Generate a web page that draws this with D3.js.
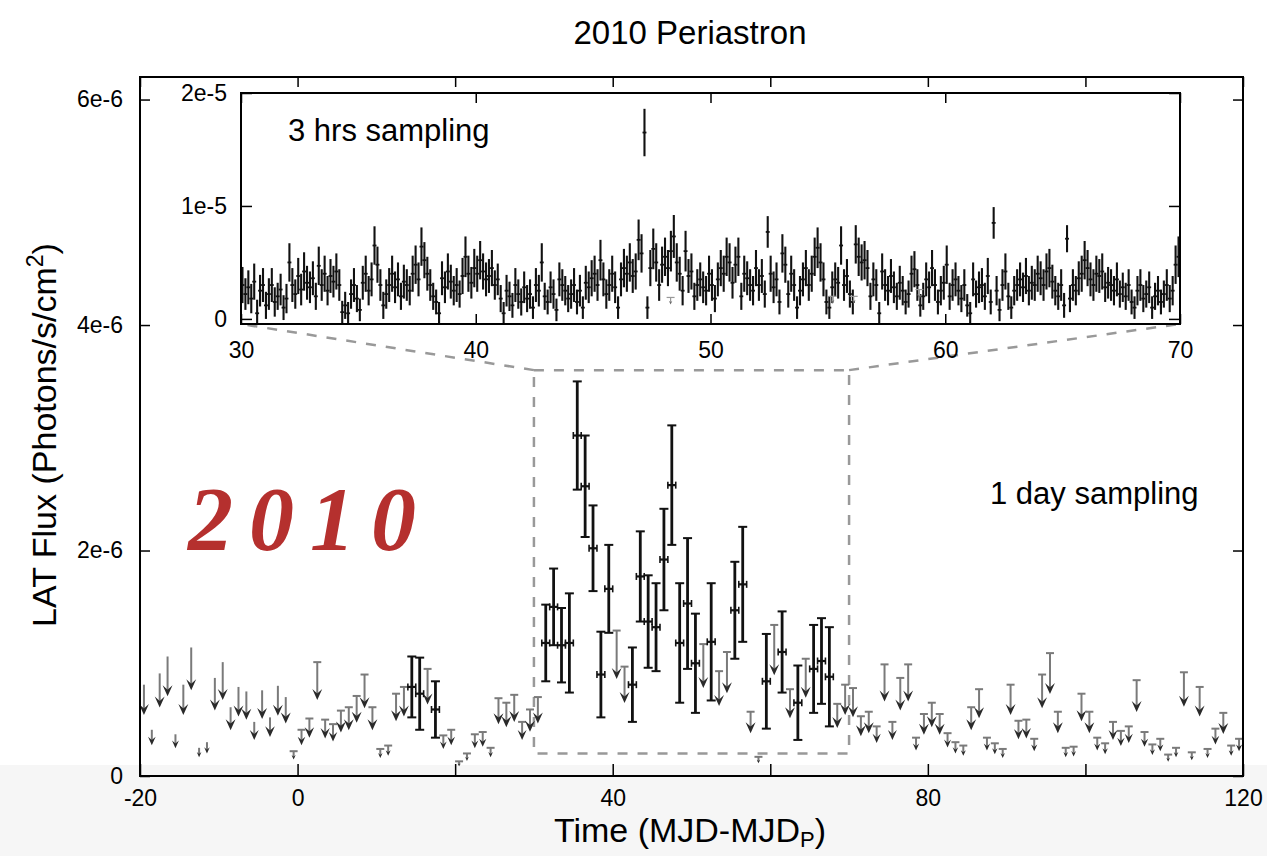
<!DOCTYPE html>
<html>
<head>
<meta charset="utf-8">
<script src="https://cdn.jsdelivr.net/npm/d3@7"></script>
<style>
  html, body { margin: 0; padding: 0; background: #fff; }
  svg { display: block; font-family: "Liberation Sans", Arial, Helvetica, sans-serif; }
</style>
</head>
<body>
<div id="chart"></div>
<script>

// 1 day sampling, flux in 1e-6 ph/s/cm2
var detTime = [14.5, 15.5, 17.5, 31.5, 32.5, 33.5, 34.5, 35.5, 36.5, 37.5, 38.5, 39.5,
    42.5, 43.5, 44.5, 45.5, 46.5, 47.5, 48.5, 49.5, 50.5, 52.5, 55.5, 56.5,
    59.5, 61.5, 63.5, 65.5, 66.5, 67.5];
var detFlux = [0.79, 0.73, 0.59, 1.18, 1.50, 1.16, 1.18, 3.02, 2.57, 2.02, 0.90, 1.66,
    0.81, 1.77, 1.37, 1.32, 1.92, 2.58, 1.18, 1.53, 1.00, 1.19, 1.47, 1.70,
    0.84, 1.10, 0.65, 0.95, 1.02, 0.88];
var detErr = [0.27, 0.32, 0.25, 0.34, 0.34, 0.33, 0.44, 0.48, 0.45, 0.38, 0.38, 0.39,
    0.33, 0.40, 0.41, 0.39, 0.45, 0.53, 0.53, 0.58, 0.44, 0.52, 0.43, 0.51,
    0.42, 0.36, 0.33, 0.39, 0.38, 0.44];

var ulTime = [-19.5, -18.5, -17.5, -16.5, -15.5, -14.5, -13.5, -12.5, -11.5, -10.5,
    -9.5, -8.5, -7.5, -6.5, -5.5, -4.5, -3.5, -2.5, -1.5, -0.5,
    0.5, 1.5, 2.5, 3.5, 4.5, 5.5, 6.5, 7.5, 8.5, 9.5,
    10.5, 11.5, 12.5, 13.5, 16.5, 18.5, 19.5, 20.5, 21.5, 22.5,
    23.5, 24.5, 25.5, 26.5, 27.5, 28.5, 29.5, 30.5, 40.5, 41.5,
    51.5, 53.5, 54.5, 57.5, 58.5, 60.5, 62.5, 64.5, 68.5, 69.5,
    70.5, 71.5, 72.5, 73.5, 74.5, 75.5, 76.5, 77.5, 78.5, 79.5,
    80.5, 81.5, 82.5, 83.5, 84.5, 85.5, 86.5, 87.5, 88.5, 89.5,
    90.5, 91.5, 92.5, 93.5, 94.5, 95.5, 96.5, 97.5, 98.5, 99.5,
    100.5, 101.5, 102.5, 103.5, 104.5, 105.5, 106.5, 107.5, 108.5, 109.5,
    110.5, 111.5, 112.5, 113.5, 114.5, 115.5, 116.5, 117.5, 118.5, 119.5];
var ulFlux = [0.81, 0.41, 0.91, 1.06, 0.37, 0.81, 1.14, 0.25, 0.30, 0.87,
    1.01, 0.61, 0.79, 0.75, 0.48, 0.76, 0.52, 0.80, 0.70, 0.22,
    0.41, 0.51, 1.01, 0.50, 0.46, 0.58, 0.61, 0.71, 0.90, 0.61,
    0.24, 0.27, 0.73, 0.79, 0.95, 0.36, 0.41, 0.13, 0.20, 0.37,
    0.39, 0.25, 0.69, 0.65, 0.72, 0.48, 0.59, 0.70, 1.29, 0.97,
    1.17, 0.93, 1.10, 0.57, 0.17, 1.34, 0.77, 1.04, 0.64, 0.81,
    0.78, 0.53, 0.57, 0.44, 0.99, 0.48, 0.87, 0.99, 0.34, 0.55,
    0.65, 0.55, 0.38, 0.30, 0.27, 0.61, 0.77, 0.34, 0.29, 0.24,
    0.81, 0.49, 0.50, 0.33, 0.90, 1.09, 0.57, 0.25, 0.26, 0.73,
    0.57, 0.34, 0.29, 0.48, 0.40, 0.44, 0.85, 0.39, 0.28, 0.33,
    0.19, 0.25, 0.92, 0.21, 0.79, 0.24, 0.42, 0.56, 0.27, 0.33];

// 3 hrs sampling, flux in 1e-5 ph/s/cm2, one row per day from 30 to 70
var insetStart = 30.0625, insetStep = 0.125;
var insetFlux = [
    0.30, 0.22, 0.28, 0.18, 0.33, 0.05, 0.25, 0.30,
    0.12, 0.22, 0.30, 0.15, 0.20, 0.26, 0.10, 0.18,
    0.50, 0.30, 0.22, 0.38, 0.26, 0.42, 0.32, 0.28,
    0.36, 0.20, 0.47, 0.30, 0.40, 0.25, 0.38, 0.33,
    0.42, 0.30, 0.06, 0.12, 0.05, 0.22, 0.30, 0.18,
    0.08, 0.32, 0.40, 0.25, 0.35, 0.65, 0.48, 0.30,
    0.12, 0.22, 0.30, 0.40, 0.28, 0.35, 0.20, 0.33,
    0.30, 0.25, 0.40, 0.48, 0.35, 0.64, 0.52, 0.40,
    0.30, 0.20, 0.15, 0.05, 0.36, 0.28, 0.42, 0.33,
    0.25, 0.30, 0.22, 0.38, 0.55, 0.40, 0.32, 0.45,
    0.40, 0.52, 0.42, 0.35, 0.38, 0.45, 0.30, 0.35,
    0.18, 0.05, 0.25, 0.20, 0.12, 0.30, 0.22, 0.15,
    0.28, 0.18, 0.22, 0.10, 0.30, 0.25, 0.50, 0.20,
    0.15, 0.28, 0.22, 0.08, 0.35, 0.30, 0.25, 0.18,
    0.22, 0.30, 0.15, 0.25, 0.10, 0.32, 0.28, 0.36,
    0.40, 0.30, 0.52, 0.35, 0.22, 0.30, 0.40, 0.28,
    0.10, 0.35, 0.45, 0.40, 0.50, 0.38, 0.42, 0.70,
    0.58, 1.65, 0.10, 0.45, 0.62, 0.50, 0.30, 0.48,
    0.55, 0.45, 0.60, 0.73, 0.50, 0.40, 0.25, 0.60,
    0.38, 0.42, 0.20, 0.30, 0.35, 0.28, 0.25, 0.40,
    0.30, 0.18, 0.35, 0.45, 0.40, 0.55, 0.50, 0.32,
    0.48, 0.55, 0.20, 0.40, 0.36, 0.30, 0.25, 0.45,
    0.30, 0.38, 0.22, 0.77, 0.40, 0.28, 0.35, 0.15,
    0.58, 0.48, 0.22, 0.40, 0.30, 0.10, 0.25, 0.35,
    0.45, 0.30, 0.40, 0.55, 0.63, 0.50, 0.35, 0.15,
    0.10, 0.28, 0.35, 0.32, 0.65, 0.30, 0.38, 0.22,
    0.15, 0.66, 0.55, 0.50, 0.52, 0.45, 0.20, 0.35,
    0.30, 0.05, 0.42, 0.30, 0.25, 0.38, 0.28, 0.20,
    0.32, 0.25, 0.15, 0.22, 0.40, 0.44, 0.30, 0.12,
    0.20, 0.35, 0.28, 0.45, 0.30, 0.15, 0.25, 0.32,
    0.48, 0.20, 0.30, 0.35, 0.25, 0.18, 0.30, 0.12,
    0.05, 0.35, 0.22, 0.28, 0.30, 0.20, 0.38, 0.15,
    0.85, 0.25, 0.08, 0.30, 0.42, 0.20, 0.10, 0.25,
    0.30, 0.35, 0.28, 0.38, 0.25, 0.32, 0.30, 0.40,
    0.36, 0.30, 0.42, 0.45, 0.33, 0.25, 0.20, 0.30,
    0.12, 0.71, 0.18, 0.30, 0.25, 0.36, 0.40, 0.52,
    0.45, 0.35, 0.30, 0.40, 0.38, 0.42, 0.28, 0.32,
    0.30, 0.25, 0.35, 0.22, 0.28, 0.20, 0.30, 0.15,
    0.10, 0.25, 0.30, 0.18, 0.22, 0.28, 0.10, 0.20,
    0.25, 0.15, 0.22, 0.30, 0.18, 0.25, 0.48, 0.55];
var insetErr = [
    0.16, 0.14, 0.15, 0.13, 0.16, 0.12, 0.14, 0.15,
    0.12, 0.14, 0.15, 0.13, 0.12, 0.14, 0.11, 0.13,
    0.17, 0.15, 0.13, 0.16, 0.14, 0.17, 0.15, 0.14,
    0.15, 0.12, 0.17, 0.14, 0.16, 0.13, 0.15, 0.14,
    0.16, 0.14, 0.10, 0.12, 0.10, 0.13, 0.15, 0.12,
    0.10, 0.15, 0.16, 0.13, 0.15, 0.17, 0.16, 0.14,
    0.12, 0.13, 0.15, 0.16, 0.14, 0.15, 0.12, 0.15,
    0.14, 0.13, 0.16, 0.17, 0.15, 0.17, 0.16, 0.15,
    0.14, 0.12, 0.11, 0.10, 0.15, 0.14, 0.16, 0.15,
    0.13, 0.15, 0.12, 0.16, 0.18, 0.16, 0.14, 0.17,
    0.16, 0.17, 0.16, 0.15, 0.15, 0.16, 0.13, 0.14,
    0.12, 0.10, 0.14, 0.13, 0.11, 0.15, 0.13, 0.12,
    0.14, 0.12, 0.13, 0.10, 0.15, 0.14, 0.17, 0.12,
    0.11, 0.14, 0.13, 0.10, 0.15, 0.14, 0.13, 0.12,
    0.13, 0.15, 0.11, 0.14, 0.10, 0.15, 0.14, 0.16,
    0.16, 0.14, 0.18, 0.15, 0.13, 0.14, 0.16, 0.14,
    0.10, 0.15, 0.17, 0.16, 0.17, 0.15, 0.16, 0.18,
    0.17, 0.21, 0.10, 0.16, 0.18, 0.17, 0.14, 0.16,
    0.17, 0.16, 0.18, 0.19, 0.17, 0.15, 0.13, 0.18,
    0.15, 0.16, 0.12, 0.14, 0.15, 0.14, 0.13, 0.16,
    0.14, 0.12, 0.15, 0.16, 0.16, 0.17, 0.17, 0.14,
    0.16, 0.17, 0.12, 0.16, 0.15, 0.14, 0.13, 0.16,
    0.14, 0.15, 0.12, 0.14, 0.16, 0.14, 0.15, 0.11,
    0.17, 0.16, 0.12, 0.16, 0.14, 0.10, 0.13, 0.15,
    0.16, 0.14, 0.16, 0.17, 0.18, 0.17, 0.15, 0.11,
    0.10, 0.14, 0.15, 0.14, 0.17, 0.14, 0.15, 0.12,
    0.11, 0.17, 0.17, 0.16, 0.17, 0.16, 0.12, 0.15,
    0.14, 0.10, 0.16, 0.14, 0.13, 0.15, 0.14, 0.12,
    0.15, 0.13, 0.11, 0.12, 0.16, 0.16, 0.14, 0.10,
    0.12, 0.15, 0.14, 0.16, 0.14, 0.11, 0.13, 0.15,
    0.17, 0.12, 0.14, 0.15, 0.13, 0.12, 0.14, 0.10,
    0.10, 0.15, 0.12, 0.14, 0.15, 0.12, 0.16, 0.11,
    0.14, 0.13, 0.10, 0.14, 0.16, 0.12, 0.10, 0.13,
    0.14, 0.15, 0.13, 0.16, 0.13, 0.15, 0.14, 0.16,
    0.15, 0.14, 0.16, 0.17, 0.15, 0.13, 0.12, 0.14,
    0.11, 0.12, 0.12, 0.14, 0.13, 0.15, 0.16, 0.17,
    0.16, 0.15, 0.14, 0.16, 0.15, 0.16, 0.13, 0.14,
    0.14, 0.13, 0.15, 0.12, 0.13, 0.12, 0.14, 0.11,
    0.10, 0.13, 0.14, 0.12, 0.12, 0.14, 0.10, 0.12,
    0.13, 0.11, 0.12, 0.14, 0.12, 0.13, 0.17, 0.18];
var insetUlTime = [48.3, 55.2, 56.1, 58.9];
var insetUlFlux = [0.19, 0.20, 0.20, 0.26];

var xTicks = [-20, 0, 20, 40, 60, 80, 100, 120];
var yTicks = [0, 2e-6, 4e-6, 6e-6];
var yTickLabels = ["0", "2e-6", "4e-6", "6e-6"];
var inXTicks = [30, 40, 50, 60, 70];
var inYTicks = [0, 1e-5, 2e-5];
var inYTickLabels = ["0", "1e-5", "2e-5"];

var zoomBox = {t0: 30, t1: 70, f0: 0.2e-6, f1: 3.6e-6};

var W = 1267, H = 856;
var svg = d3.select("#chart").append("svg")
    .attr("width", W)
    .attr("height", H);

// grey band of the screenshot
svg.append("rect").attr("x", 0).attr("y", 765).attr("width", W).attr("height", H - 765).attr("fill", "#f6f6f6");

var x = d3.scaleLinear().domain([-20, 120]).range([140, 1243]);
var y = d3.scaleLinear().domain([0, 6.2e-6]).range([776, 77]);

var xi = d3.scaleLinear().domain([30, 70]).range([241, 1180]);
var yi = d3.scaleLinear().domain([-0.045e-5, 2e-5]).range([324, 93]);

var tickFont = 23;

// main axes (inward ticks)
var gx = svg.append("g").attr("transform", "translate(0,776)")
    .call(d3.axisBottom(x).tickValues(xTicks).tickSize(-12).tickPadding(14)
        .tickFormat(function (d) { return (d === -20 || d % 40 === 0) ? d : ""; }));
svg.append("g").attr("transform", "translate(0,77)")
    .call(d3.axisTop(x).tickValues(xTicks).tickSize(-10).tickFormat(""));
var gy = svg.append("g").attr("transform", "translate(140,0)")
    .call(d3.axisLeft(y).tickValues(yTicks).tickSize(-10).tickPadding(17)
        .tickFormat(function (d, i) { return yTickLabels[i]; }));
svg.append("g").attr("transform", "translate(1243,0)")
    .call(d3.axisRight(y).tickValues(yTicks).tickSize(-10).tickFormat(""));
svg.selectAll(".domain").remove();
svg.selectAll(".tick line").attr("stroke", "#000").attr("stroke-width", 1.5);
gx.selectAll("text").attr("font-size", tickFont).attr("fill", "#000").attr("font-family", null);
gy.selectAll("text").attr("font-size", tickFont).attr("fill", "#000").attr("font-family", null);

// zoom box and connectors
var dash = "10,10";
svg.append("rect")
    .attr("x", x(zoomBox.t0)).attr("y", y(zoomBox.f1))
    .attr("width", x(zoomBox.t1) - x(zoomBox.t0))
    .attr("height", y(zoomBox.f0) - y(zoomBox.f1))
    .attr("fill", "none").attr("stroke", "#999").attr("stroke-width", 2.5)
    .attr("stroke-dasharray", dash);
svg.append("line")
    .attr("x1", x(zoomBox.t0)).attr("y1", y(zoomBox.f1))
    .attr("x2", xi(30)).attr("y2", 324)
    .attr("stroke", "#999").attr("stroke-width", 2.5).attr("stroke-dasharray", dash);
svg.append("line")
    .attr("x1", x(zoomBox.t1)).attr("y1", y(zoomBox.f1))
    .attr("x2", xi(70)).attr("y2", 324)
    .attr("stroke", "#999").attr("stroke-width", 2.5).attr("stroke-dasharray", dash);

// upper limits
function drawArrow(g, cx, yTop, yTip, capped, color, headColor, lw) {
    var len = yTip - yTop;
    var h = Math.min(11, len * 0.55);
    var hw = Math.max(1.6, h * 0.45);
    g.append("line").attr("x1", cx).attr("x2", cx).attr("y1", yTop).attr("y2", yTip - h * 0.5)
        .attr("stroke", color).attr("stroke-width", lw);
    g.append("path")
        .attr("d", "M" + (cx - hw) + "," + (yTip - h) + "L" + cx + "," + yTip + "L" + (cx + hw) + "," + (yTip - h) + "L" + cx + "," + (yTip - h * 0.6) + "Z")
        .attr("fill", headColor);
    if (capped) {
        g.append("line").attr("x1", cx - 4).attr("x2", cx + 4).attr("y1", yTop).attr("y2", yTop)
            .attr("stroke", color).attr("stroke-width", lw);
    }
}

var gUl = svg.append("g");
ulTime.forEach(function (t, i) {
    var v = ulFlux[i] * 1e-6;
    drawArrow(gUl, x(t), y(v), y(v * 2 / 3), t > -1, "#7a7a7a", "#2a2a2a", 2);
});

// detections
var gDet = svg.append("g").attr("stroke", "#111");
detTime.forEach(function (t, i) {
    var v = detFlux[i] * 1e-6, e = detErr[i] * 1e-6;
    var cx = x(t), cy = y(v);
    gDet.append("line").attr("x1", cx).attr("x2", cx).attr("y1", y(v + e)).attr("y2", y(v - e)).attr("stroke-width", 2.8);
    gDet.append("line").attr("x1", cx - 4.5).attr("x2", cx + 4.5).attr("y1", y(v + e)).attr("y2", y(v + e)).attr("stroke-width", 2);
    gDet.append("line").attr("x1", cx - 4.5).attr("x2", cx + 4.5).attr("y1", y(v - e)).attr("y2", y(v - e)).attr("stroke-width", 2);
    gDet.append("line").attr("x1", x(t - 0.5)).attr("x2", x(t + 0.5)).attr("y1", cy).attr("y2", cy).attr("stroke-width", 2.2);
    gDet.append("line").attr("x1", x(t - 0.5)).attr("x2", x(t - 0.5)).attr("y1", cy - 3.5).attr("y2", cy + 3.5).attr("stroke-width", 1.6);
    gDet.append("line").attr("x1", x(t + 0.5)).attr("x2", x(t + 0.5)).attr("y1", cy - 3.5).attr("y2", cy + 3.5).attr("stroke-width", 1.6);
});

// main frame
svg.append("rect").attr("x", 140).attr("y", 77).attr("width", 1103).attr("height", 699)
    .attr("fill", "none").attr("stroke", "#000").attr("stroke-width", 2);

// ---- inset ----
svg.append("rect").attr("x", 241).attr("y", 93).attr("width", 939).attr("height", 231).attr("fill", "#fff");
svg.append("clipPath").attr("id", "inclip")
    .append("rect").attr("x", 241).attr("y", 93).attr("width", 939).attr("height", 231);
var gIn = svg.append("g").attr("clip-path", "url(#inclip)");

insetFlux.forEach(function (f, i) {
    var t = insetStart + i * insetStep;
    var v = f * 1e-5, e = insetErr[i] * 1e-5;
    var cx = xi(t), cy = yi(v);
    gIn.append("line").attr("x1", cx).attr("x2", cx).attr("y1", yi(v + e)).attr("y2", yi(v - e))
        .attr("stroke", "#111").attr("stroke-width", 2.1);
    gIn.append("line").attr("x1", xi(t - insetStep / 2) - 0.5).attr("x2", xi(t + insetStep / 2) + 0.5).attr("y1", cy).attr("y2", cy)
        .attr("stroke", "#111").attr("stroke-width", 1.8);
});
insetUlTime.forEach(function (t, i) {
    var v = insetUlFlux[i] * 1e-5;
    drawArrow(gIn, xi(t), yi(v), yi(v * 2 / 3), true, "#999", "#666", 1.2);
});

var gix = svg.append("g").attr("transform", "translate(0,324)")
    .call(d3.axisBottom(xi).tickValues(inXTicks).tickSize(-10).tickPadding(18).tickFormat(d3.format("d")));
svg.append("g").attr("transform", "translate(0,93)")
    .call(d3.axisTop(xi).tickValues(inXTicks).tickSize(-10).tickFormat(""));
var giy = svg.append("g").attr("transform", "translate(241,0)")
    .call(d3.axisLeft(yi).tickValues(inYTicks).tickSize(-11).tickPadding(14)
        .tickFormat(function (d, i) { return inYTickLabels[i]; }));
svg.append("g").attr("transform", "translate(1180,0)")
    .call(d3.axisRight(yi).tickValues(inYTicks).tickSize(-11).tickFormat(""));
svg.selectAll(".domain").remove();
svg.selectAll(".tick line").attr("stroke", "#000").attr("stroke-width", 1.5);
gix.selectAll("text").attr("font-size", tickFont).attr("fill", "#000").attr("font-family", null);
giy.selectAll("text").attr("font-size", tickFont).attr("fill", "#000").attr("font-family", null);

svg.append("rect").attr("x", 241).attr("y", 93).attr("width", 939).attr("height", 231)
    .attr("fill", "none").attr("stroke", "#000").attr("stroke-width", 2);

// texts
svg.append("text").attr("x", 690).attr("y", 44).attr("text-anchor", "middle")
    .attr("font-size", 33).text("2010 Periastron");
svg.append("text").attr("x", 288).attr("y", 141).attr("font-size", 31).text("3 hrs sampling");
svg.append("text").attr("x", 990).attr("y", 504).attr("font-size", 31).text("1 day sampling");

svg.append("text").attr("x", 188).attr("y", 550)
    .attr("font-family", "'Liberation Serif', 'DejaVu Serif', serif")
    .attr("font-style", "italic").attr("font-weight", "bold")
    .attr("font-size", 90).attr("letter-spacing", 16)
    .attr("fill", "#b5302e").text("2010");

var xt = svg.append("text").attr("x", 690).attr("y", 842).attr("text-anchor", "middle").attr("font-size", 34);
xt.append("tspan").text("Time (MJD-MJD");
xt.append("tspan").attr("font-size", 22).attr("dy", 5).text("P");
xt.append("tspan").attr("dy", -5).text(")");

var yt = svg.append("text").attr("transform", "translate(56,435) rotate(-90)")
    .attr("text-anchor", "middle").attr("font-size", 34);
yt.append("tspan").text("LAT Flux (Photons/s/cm");
yt.append("tspan").attr("font-size", 23).attr("dy", -13).text("2");
yt.append("tspan").attr("dy", 13).text(")");

</script>
</body>
</html>
